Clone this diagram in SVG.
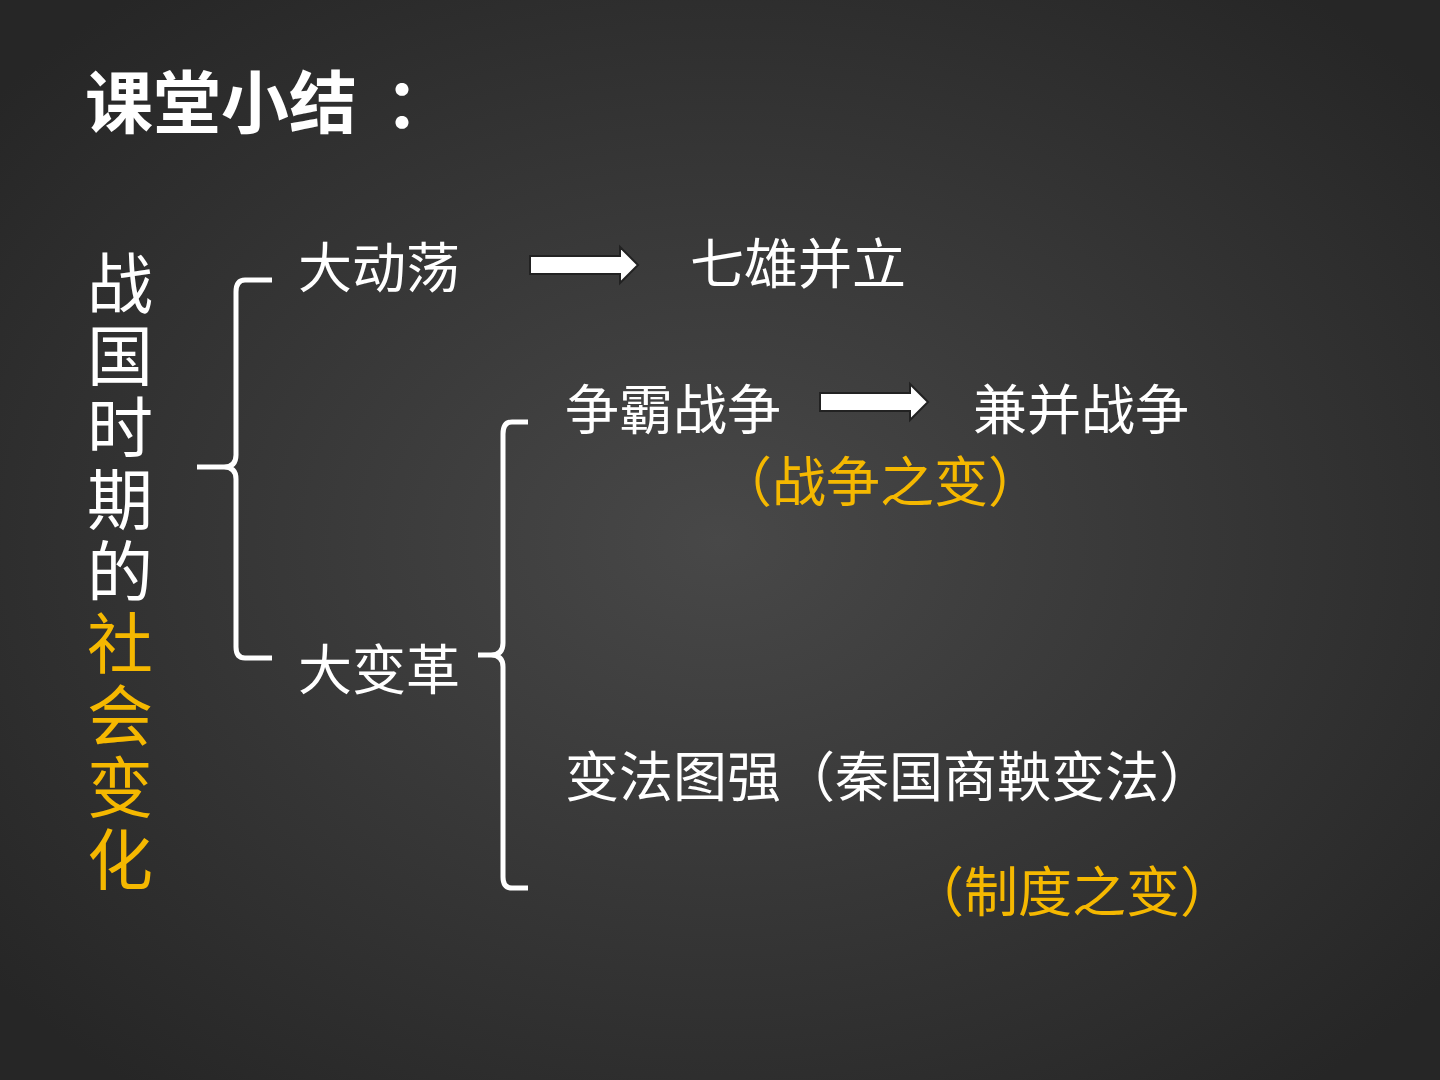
<svg xmlns="http://www.w3.org/2000/svg" width="1440" height="1080" viewBox="0 0 1440 1080">
<defs>
<radialGradient id="bg" cx="50%" cy="50%" r="65%">
<stop offset="0" stop-color="#484848"/><stop offset="1" stop-color="#262626"/>
</radialGradient>
<style>
text{font-family:"Noto Sans CJK SC","Liberation Sans",sans-serif;fill:#fff}
.t{font-size:54px}
.y{fill:#f5b800}
.v{font-size:66px}
.br{fill:none;stroke:#fff;stroke-width:5}
.ar{fill:#fff;stroke:#222;stroke-width:2}
</style>
</defs>
<rect width="1440" height="1080" fill="url(#bg)"/>
<text x="85" y="128" font-size="68" font-weight="bold">课堂小结</text>
<text x="385" y="128" font-size="68" font-weight="bold">：</text>
<g id="vertical">
<text class="v" x="87" y="308">战</text>
<text class="v" x="87" y="380">国</text>
<text class="v" x="87" y="452">时</text>
<text class="v" x="87" y="524">期</text>
<text class="v" x="87" y="596">的</text>
<text class="v y" x="87" y="668">社</text>
<text class="v y" x="87" y="740">会</text>
<text class="v y" x="87" y="812">变</text>
<text class="v y" x="87" y="884">化</text>
</g>
<g id="connectors">
<path class="br" d="M272,280 H245 Q236,280 236,292 V455 Q236,467 224,467 H197 M224,467 Q236,467 236,479 V647 Q236,658 245,658 H272"/>
<path class="br" d="M528,422 H512 Q503,422 503,434 V643 Q503,655 491,655 H478 M491,655 Q503,655 503,667 V877 Q503,888 512,888 H528"/>
<path class="ar" d="M530,256 H620 V247 L638,265 L620,283 V274 H530 Z"/>
<path class="ar" d="M820,393 H910 V384 L928,402 L910,420 V411 H820 Z"/>
</g>
<g id="n1"><text class="t" x="298" y="288">大动荡</text></g>
<g id="n2"><text class="t" x="690" y="284">七雄并立</text></g>
<g id="n3"><text class="t" x="565" y="430">争霸战争</text></g>
<g id="n4"><text class="t" x="973" y="430">兼并战争</text></g>
<g id="n5"><text class="t y" x="718" y="502">（战争之变）</text></g>
<g id="n6"><text class="t" x="298" y="690">大变革</text></g>
<g id="n7"><text class="t" x="565" y="797">变法图强（秦国商鞅变法）</text></g>
<g id="n8"><text class="t y" x="910" y="912">（制度之变）</text></g>
</svg>
